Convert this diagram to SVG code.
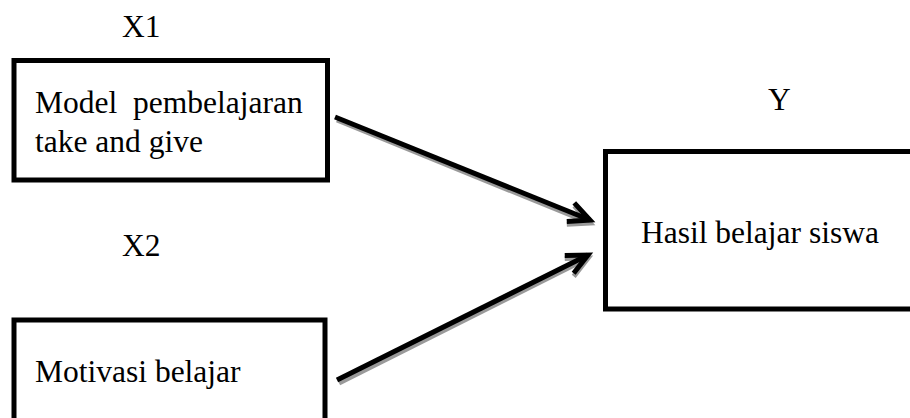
<svg xmlns="http://www.w3.org/2000/svg" width="910" height="418" viewBox="0 0 910 418">
<style>
  .box { fill: #ffffff; stroke: #000000; stroke-width: 5; }
  .t { font-family: "Liberation Serif", "Times New Roman", serif; font-size: 31.5px; fill: #000000; white-space: pre; }
  .ln { stroke: #000000; stroke-width: 5; fill: none; stroke-linecap: butt; }
  .sh { stroke: #9a9a9a; stroke-width: 5; fill: none; }
</style>
<defs>
  <marker id="head" markerUnits="userSpaceOnUse" viewBox="-26 -14 30 28" refX="0" refY="0" markerWidth="30" markerHeight="28" orient="auto" overflow="visible">
    <path d="M -21 -10 L 0 0 L -21 10" fill="none" stroke="#000000" stroke-width="5"/>
  </marker>
  <marker id="headsh" markerUnits="userSpaceOnUse" viewBox="-26 -14 30 28" refX="0" refY="0" markerWidth="30" markerHeight="28" orient="auto" overflow="visible">
    <path d="M -21 -10 L 0 0 L -21 10" fill="none" stroke="#9a9a9a" stroke-width="5"/>
  </marker>
</defs>
<rect width="910" height="418" fill="#ffffff"/>
<g id="labels">
  <text class="t" x="122" y="37">X1</text>
  <text class="t" x="122" y="256">X2</text>
  <text class="t" x="768" y="110">Y</text>
</g>
<g id="node-x1">
  <rect class="box" x="14" y="60.5" width="313.5" height="119.5"/>
  <text class="t" x="35" y="113">Model  pembelajaran</text>
  <text class="t" x="35" y="152">take and give</text>
</g>
<g id="node-x2">
  <rect class="box" x="14" y="320" width="311" height="110"/>
  <text class="t" x="35" y="382">Motivasi belajar</text>
</g>
<g id="node-y">
  <rect class="box" x="605.5" y="151.5" width="320" height="157.5"/>
  <text class="t" x="641" y="243">Hasil belajar siswa</text>
</g>
<g id="connectors">
  <line class="sh" x1="337" y1="120" x2="590" y2="223" marker-end="url(#headsh)"/>
  <line class="sh" x1="339" y1="383" x2="588" y2="258" marker-end="url(#headsh)"/>
  <line class="ln" x1="335" y1="117" x2="590" y2="220" marker-end="url(#head)"/>
  <line class="ln" x1="337" y1="380" x2="588" y2="255" marker-end="url(#head)"/>
</g>
</svg>
